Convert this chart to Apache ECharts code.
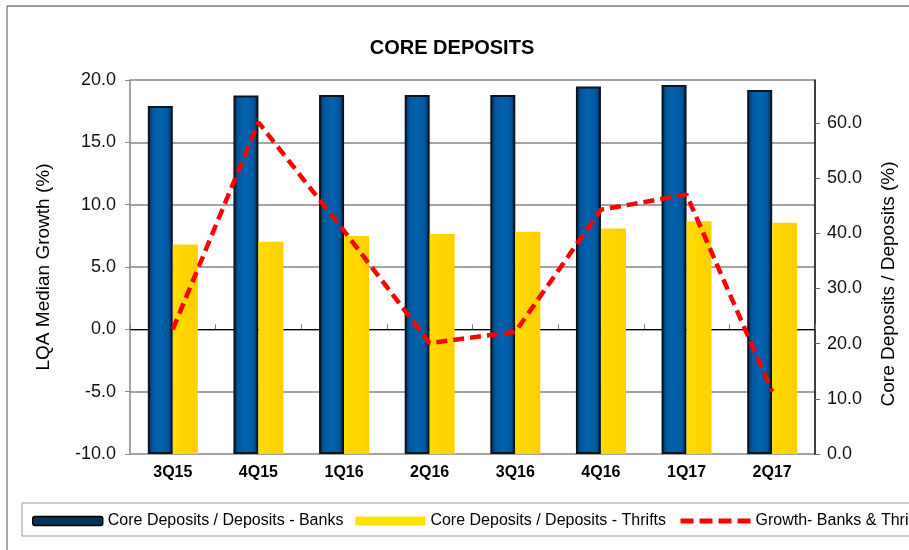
<!DOCTYPE html>
<html>
<head>
<meta charset="utf-8">
<script src="https://cdn.jsdelivr.net/npm/echarts@6/dist/echarts.min.js"></script>
<style>
  html, body { margin: 0; padding: 0; background: #fff; }
  #chart { width: 909px; height: 550px; }
</style>
</head>
<body>
<div id="chart"></div>
<script>
// quarters on the x axis
const quarters = ["3Q15", "4Q15", "1Q16", "2Q16", "3Q16", "4Q16", "1Q17", "2Q17"];
// core deposits / deposits (%) - right axis
const banksRatio = [63.1, 65.0, 65.1, 65.1, 65.1, 66.6, 66.9, 66.0];
const thriftsRatio = [38.0, 38.5, 39.5, 39.9, 40.3, 40.9, 42.2, 41.9];
// LQA median growth (%) - left axis
const growth = [0.0, 16.6, 7.9, -1.1, -0.2, 9.6, 10.8, -5.0];

const FONT = "Liberation Sans, Arial, sans-serif";

let myChart = echarts.init(document.getElementById("chart"));

let blueFill = new echarts.graphic.LinearGradient(0, 0, 1, 0, [
  { offset: 0, color: "#0b2a48" },
  { offset: 0.2, color: "#0058a0" },
  { offset: 0.5, color: "#0063ad" },
  { offset: 0.8, color: "#0058a0" },
  { offset: 1, color: "#0b2a48" },
]);
let yellowFill = new echarts.graphic.LinearGradient(0, 0, 1, 0, [
  { offset: 0, color: "#ffdc00" },
  { offset: 0.5, color: "#ffd500" },
  { offset: 1, color: "#ffcf00" },
]);

let option = {
  animation: false,
  backgroundColor: "#fff",
  title: {
    text: "CORE DEPOSITS",
    left: 447,
    textAlign: "center",
    top: 33,
    textStyle: { fontFamily: FONT, fontSize: 20, fontWeight: "bold", color: "#000" },
  },
  graphic: [
    // outer frame
    { type: "line", shape: { x1: 7, y1: 6, x2: 7, y2: 550 }, style: { stroke: "#a8a8a8", lineWidth: 2 } },
    { type: "line", shape: { x1: 7, y1: 6, x2: 909, y2: 6 }, style: { stroke: "#777", lineWidth: 1.5 } },
    // legend box
    { type: "rect", shape: { x: 22, y: 503, width: 900, height: 33 }, style: { fill: "none", stroke: "#999", lineWidth: 1 } },
  ],
  legend: {
    left: 32,
    top: 513,
    width: 1200,
    padding: 0,
    itemWidth: 70,
    itemHeight: 9,
    itemGap: 12,
    textStyle: { fontFamily: FONT, fontSize: 16, color: "#000" },
    data: [
      { name: "Core Deposits / Deposits - Banks", icon: "roundRect", itemStyle: { color: "#07335a", borderColor: "#000", borderWidth: 1.5 } },
      { name: "Core Deposits / Deposits - Thrifts", icon: "rect", itemStyle: { color: "#ffe200" } },
      { name: "Growth- Banks & Thrifts", itemStyle: { opacity: 0 }, lineStyle: { width: 5, type: [13, 6], color: "#ff0000" } },
    ],
  },
  grid: { left: 130, right: 94, top: 80, bottom: 96 },
  xAxis: [
    {
      type: "category",
      data: quarters,
      position: "bottom",
      axisLine: { show: false },
      axisTick: { show: false },
      axisLabel: { margin: 11, fontFamily: FONT, fontSize: 16, fontWeight: "bold", color: "#000" },
    },
    {
      // zero line with ticks
      type: "category",
      data: quarters,
      axisLine: { show: true, onZero: true, onZeroAxisIndex: 0, lineStyle: { color: "#000", width: 1.2 } },
      axisTick: { show: true, length: 5, lineStyle: { color: "#777" } },
      axisLabel: { show: false },
    },
  ],
  yAxis: [
    {
      type: "value",
      name: "LQA Median Growth (%)",
      nameLocation: "middle",
      nameGap: 77,
      nameTextStyle: { fontFamily: FONT, fontSize: 19, color: "#000" },
      min: -10,
      max: 20,
      interval: 5,
      axisLine: { show: true, lineStyle: { color: "#888", width: 1.5 } },
      axisTick: { show: true, length: 5, lineStyle: { color: "#888" } },
      axisLabel: {
        margin: 14,
        fontFamily: FONT,
        fontSize: 18,
        color: "#111",
        formatter: (v) => v.toFixed(1),
      },
      splitLine: { show: true, lineStyle: { color: "#a3a3a3", width: 2 } },
    },
    {
      type: "value",
      name: "Core Deposits / Deposits (%)",
      nameLocation: "middle",
      nameGap: 64,
      nameTextStyle: { fontFamily: FONT, fontSize: 19, color: "#000", padding: [0, 34, 0, 0] },
      min: 0,
      max: 67.8,
      interval: 10,
      axisLine: { show: true, lineStyle: { color: "#000", width: 1.5 } },
      axisTick: { show: true, length: 5, lineStyle: { color: "#666" } },
      axisLabel: {
        margin: 12,
        fontFamily: FONT,
        fontSize: 18,
        color: "#111",
        showMaxLabel: false,
        formatter: (v) => v.toFixed(1),
      },
      splitLine: { show: false },
    },
  ],
  series: [
    {
      name: "Core Deposits / Deposits - Banks",
      type: "bar",
      yAxisIndex: 1,
      barWidth: 25,
      barGap: "0%",
      itemStyle: { color: blueFill, borderColor: "#081420", borderWidth: 2 },
      data: banksRatio,
    },
    {
      name: "Core Deposits / Deposits - Thrifts",
      type: "bar",
      yAxisIndex: 1,
      barWidth: 25,
      barGap: "0%",
      itemStyle: { color: yellowFill },
      data: thriftsRatio,
    },
    {
      name: "Growth- Banks & Thrifts",
      type: "line",
      yAxisIndex: 0,
      symbol: "none",
      z: 5,
      lineStyle: { color: "#ff0000", width: 4.5, type: [11, 6] },
      itemStyle: { color: "#ff0000" },
      data: growth,
    },
  ],
};
myChart.setOption(option);
</script>
</body>
</html>
